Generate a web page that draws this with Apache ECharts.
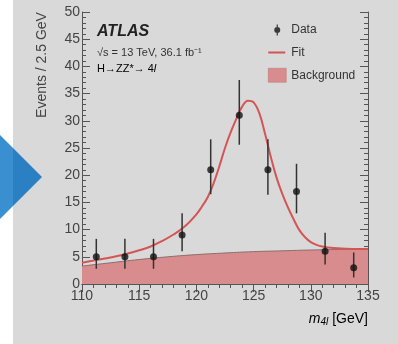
<!DOCTYPE html>
<html>
<head>
<meta charset="utf-8">
<script src="https://cdn.jsdelivr.net/npm/echarts@6/dist/echarts.min.js"></script>
<style>html,body{margin:0;padding:0;background:#fff}#c{width:398px;height:344px}</style>
</head>
<body>
<div id="c"></div>
<script>
// ---- data ----
const dataX = [111.25, 113.75, 116.25, 118.75, 121.25, 123.75, 126.25, 128.75, 131.25, 133.75];
const dataY = [5, 5, 5, 9, 21, 31, 21, 17, 6, 3];
const errLo = [2.8, 2.8, 2.8, 6.0, 16.5, 25.6, 16.4, 13.0, 3.6, 1.2];
const errHi = [8.3, 8.3, 8.3, 13.0, 26.6, 37.5, 26.6, 22.1, 9.4, 5.8];

const fitX = [110, 111, 112, 113, 114, 115, 116, 117, 118, 119, 120, 120.5, 121, 121.5, 122, 122.5, 123, 123.5, 124, 124.5, 125, 125.5, 126, 126.5, 127, 127.5, 128, 128.5, 129, 129.5, 130, 130.5, 131, 132, 133, 134, 135];
const fitY = [3.9, 4.3, 4.7, 5.1, 5.6, 6.2, 6.9, 7.9, 9.1, 10.6, 12.8, 14.3, 16.0, 18.5, 21.6, 25.0, 27.9, 30.4, 32.6, 33.7, 33.4, 31.4, 27.6, 23.4, 19.6, 16.6, 14.1, 11.9, 9.9, 8.6, 7.7, 7.2, 6.9, 6.6, 6.5, 6.45, 6.45];

const bgX = [110, 112.5, 115, 117.5, 120, 122.5, 125, 127.5, 130, 132.5, 135];
const bgY = [3.3, 3.9, 4.5, 5.0, 5.4, 5.7, 5.95, 6.1, 6.25, 6.35, 6.4];

const legendNames = ['Data', 'Fit', 'Background'];
const yTitle = 'Events / 2.5 GeV';

// ---- chart ----
const FONT = 'Liberation Sans, Arial, sans-serif';
const AX = '#555';
const chart = echarts.init(document.getElementById('c'), null, {renderer: 'canvas'});

const tickCommon = {
  axisLine: {show: true, lineStyle: {color: AX, width: 1}},
  axisTick: {show: true, inside: true, length: 8, lineStyle: {color: AX, width: 1}},
  minorTick: {show: true, splitNumber: 5, length: 4, lineStyle: {color: AX, width: 1}},
  splitLine: {show: false}
};

const dataIcon = 'path://M0,0h0.01v0.01h-0.01z M8.4,1.5h1.2v11h-1.2z M6,7a3,3 0 1,1 6,0a3,3 0 1,1 -6,0z M18,14h-0.01v-0.01h0.01z';
const fitIcon = 'path://M0,0h0.01v0.01h-0.01z M0,6.1h17v1.8h-17z M18,14h-0.01v-0.01h0.01z';

chart.setOption({
  backgroundColor: '#ffffff',
  animation: false,
  graphic: [
    {type: 'rect', z: -10, shape: {x: 13, y: 0, width: 385, height: 344}, style: {fill: '#d9d9d9'}},
    {type: 'polygon', z: -5, shape: {points: [[0, 135], [13, 148], [13, 206], [0, 219]]}, style: {fill: '#3a8fd1'}},
    {type: 'polygon', z: -5, shape: {points: [[13, 148], [42, 177], [13, 206]]}, style: {fill: '#2b7fc3'}},
    {type: 'text', x: 97, y: 32, style: {text: 'ATLAS', font: 'italic bold 16px ' + FONT, fill: '#222', textVerticalAlign: 'middle'}},
    {type: 'text', x: 97, y: 53, style: {text: '√s = 13 TeV, 36.1 fb⁻¹', font: '11px ' + FONT, fill: '#333', textVerticalAlign: 'middle'}},
    {type: 'text', x: 97, y: 69, style: {
      text: '{n|H→ZZ*→ 4}{i|l}',
      textVerticalAlign: 'middle',
      rich: {n: {fontSize: 11, fontFamily: FONT, color: '#333'}, i: {fontSize: 11, fontStyle: 'italic', fontFamily: FONT, color: '#333'}}
    }},
    {type: 'text', x: 42, y: 65, rotation: Math.PI / 2, style: {text: yTitle, font: '14px ' + FONT, fill: '#444', textAlign: 'center', textVerticalAlign: 'middle'}},
    {type: 'text', x: 368, y: 319, style: {
      text: '{m|m}{s|4l}{g| [GeV]}',
      textAlign: 'right', textVerticalAlign: 'middle',
      rich: {
        m: {fontSize: 14, fontStyle: 'italic', fontFamily: FONT, color: '#444'},
        s: {fontSize: 10, fontStyle: 'italic', fontFamily: FONT, color: '#444', verticalAlign: 'bottom', padding: [6, 0, 0, 0]},
        g: {fontSize: 14, fontFamily: FONT, color: '#444'}
      }
    }}
  ],
  legend: {
    left: 263, top: 18, orient: 'vertical',
    itemWidth: 18, itemHeight: 14, itemGap: 8.5,
    selectedMode: false,
    textStyle: {fontSize: 12, fontFamily: FONT, color: '#333'},
    data: [
      {name: legendNames[0], icon: dataIcon, itemStyle: {color: '#111'}},
      {name: legendNames[1], icon: fitIcon, itemStyle: {color: '#d45555'}},
      {name: legendNames[2], icon: 'rect', itemStyle: {color: '#d88c8e', borderColor: '#b87070', borderWidth: 0.5}}
    ]
  },
  grid: {left: 82, right: 30, top: 12, bottom: 60},
  xAxis: [
    Object.assign({
      type: 'value', min: 110, max: 135, interval: 5, position: 'bottom',
      axisLabel: {show: true, margin: 5, fontSize: 14, fontFamily: FONT, color: '#444'}
    }, tickCommon),
    Object.assign({
      type: 'value', min: 110, max: 135, interval: 5, position: 'top',
      axisLabel: {show: false}
    }, tickCommon)
  ],
  yAxis: [
    Object.assign({
      type: 'value', min: 0, max: 50, interval: 5, position: 'left',
      axisLabel: {show: true, margin: 2, fontSize: 14, fontFamily: FONT, color: '#444'}
    }, tickCommon),
    Object.assign({
      type: 'value', min: 0, max: 50, interval: 5, position: 'right',
      axisLabel: {show: false}
    }, tickCommon)
  ],
  series: [
    {
      name: legendNames[2], type: 'line', z: 1,
      data: bgX.map((x, i) => [x, bgY[i]]),
      smooth: true, showSymbol: false, symbol: 'none',
      lineStyle: {color: '#8c6d6d', width: 1},
      itemStyle: {color: '#d88c8e'},
      areaStyle: {color: '#d88c8e', opacity: 1}
    },
    {
      name: legendNames[1], type: 'line', z: 3,
      data: fitX.map((x, i) => [x, fitY[i]]),
      smooth: 0.4, showSymbol: false, symbol: 'none',
      lineStyle: {color: '#d45555', width: 2},
      itemStyle: {color: '#d45555'}
    },
    {
      name: 'err', type: 'custom', z: 4,
      data: dataX.map((x, i) => [x, errLo[i], errHi[i]]),
      renderItem: function (params, api) {
        const p1 = api.coord([api.value(0), api.value(1)]);
        const p2 = api.coord([api.value(0), api.value(2)]);
        return {type: 'line', shape: {x1: p1[0], y1: p1[1], x2: p2[0], y2: p2[1]}, style: {stroke: '#333', lineWidth: 1.5}};
      }
    },
    {
      name: legendNames[0], type: 'scatter', z: 5,
      data: dataX.map((x, i) => [x, dataY[i]]),
      symbol: 'circle', symbolSize: 7,
      itemStyle: {color: '#111'}
    }
  ]
});
</script>
</body>
</html>
